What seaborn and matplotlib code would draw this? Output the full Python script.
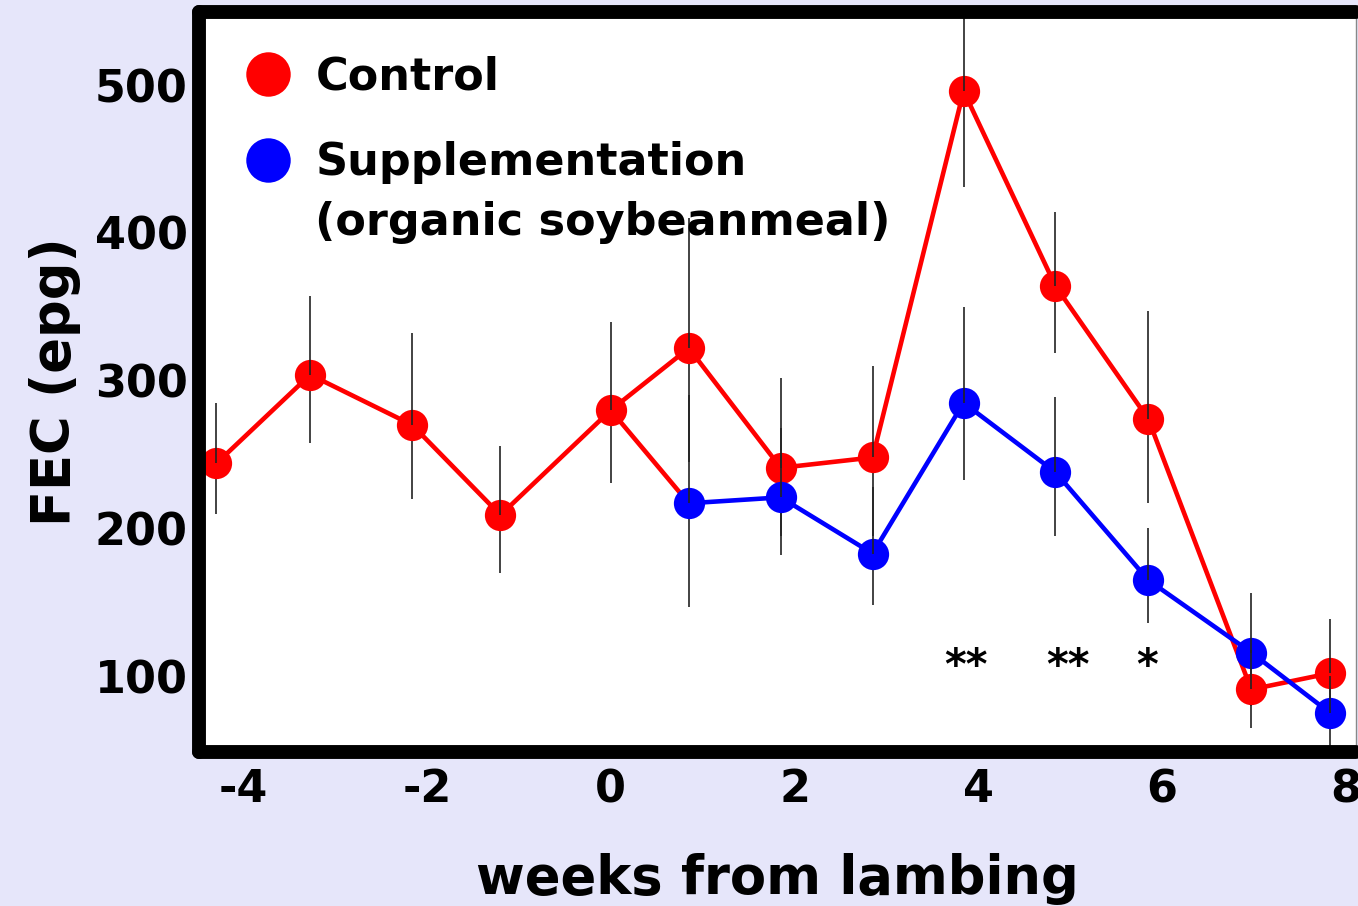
import matplotlib
matplotlib.use("Agg")
import matplotlib.pyplot as plt
from matplotlib.lines import Line2D
import pandas as pd
import seaborn as sns

# ---- data ----
weeks_control = [-4.29, -3.27, -2.16, -1.20, 0.0, 0.85, 1.85, 2.85, 3.84, 4.84, 5.85, 6.97, 7.83]
fec_control = [244, 304, 270, 209, 280, 322, 241, 248, 496, 364, 274, 91, 102]
control_top = [285, 357, 332, 256, 340, 410, 302, 310, 560, 414, 347, 118, 139]
control_bottom = [210, 258, 220, 170, 231, 245, 195, 195, 431, 319, 217, 65, 68]

weeks_supp = [0.85, 1.85, 2.85, 3.84, 4.84, 5.85, 6.97, 7.83]
fec_supp = [217, 221, 183, 285, 238, 165, 116, 75]
supp_top = [290, 268, 228, 350, 289, 200, 156, 100]
supp_bottom = [147, 182, 148, 233, 195, 136, 80, 50]

signif_weeks = [3.87, 4.98, 5.84]
signif_labels = ["**", "**", "*"]
signif_y = 98

x_ticks = [-4, -2, 0, 2, 4, 6, 8]
x_tick_labels = ["-4", "-2", "0", "2", "4", "6", "8"]
x_minor = [-3, -1, 1, 3, 5, 7]
y_ticks = [100, 200, 300, 400, 500]
y_minor = [150, 250, 350, 450]

series_names = ["Control", "Supplementation"]
extra_legend_line = "(organic soybeanmeal)"

RED = "#FF0000"
BLUE = "#0000FF"
BG = "#E6E6FA"
ERR = "#222222"

sns.set_style("white")
plt.rcParams["font.family"] = ["DejaVu Sans"]
plt.rcParams["font.weight"] = "bold"
plt.rcParams["axes.labelweight"] = "bold"
plt.rcParams["axes.unicode_minus"] = False
plt.rcParams["text.color"] = "black"
plt.rcParams["axes.labelcolor"] = "black"

W, H = 1358, 906
fig = plt.figure(figsize=(W / 100, H / 100), dpi=100, facecolor=BG)
ax = fig.add_axes([199 / W, (H - 751.5) / H, (1356 - 199) / W, (751.5 - 12) / H])
ax.set_facecolor("white")

df_c = pd.DataFrame({"week": weeks_control, "fec": fec_control})
df_s = pd.DataFrame({"week": weeks_supp, "fec": fec_supp})

# lower error halves (beneath markers)
ax.vlines(weeks_control, control_bottom, fec_control, colors=ERR, lw=1.2, zorder=1.5)
ax.vlines(weeks_supp, supp_bottom, fec_supp, colors=ERR, lw=1.2, zorder=1.5)

# connecting segment from week-0 control point to first supplementation point
sns.lineplot(x=[weeks_control[4], weeks_supp[0]], y=[fec_control[4], fec_supp[0]],
             color=RED, linewidth=3.3, ax=ax, zorder=1.8, estimator=None)

sns.lineplot(data=df_c, x="week", y="fec", color=RED, marker="o", markersize=22.5,
             markeredgewidth=0, linewidth=3.3, ax=ax, zorder=2, estimator=None)
sns.lineplot(data=df_s, x="week", y="fec", color=BLUE, marker="o", markersize=22.5,
             markeredgewidth=0, linewidth=3.3, ax=ax, zorder=2.1, estimator=None)

# upper error halves (over markers)
ax.vlines(weeks_control, fec_control, control_top, colors=ERR, lw=1.2, zorder=2.3)
ax.vlines(weeks_supp, fec_supp, supp_top, colors=ERR, lw=1.2, zorder=2.3)

for xw, s in zip(signif_weeks, signif_labels):
    ax.text(xw, signif_y, s, ha="center", va="baseline", fontsize=30,
            fontweight="bold", color="black", zorder=3)

ax.set_xlim(-4.48, 8.11)
ax.set_ylim(49, 549.5)
ax.set_xticks(x_ticks)
ax.set_xticklabels(x_tick_labels)
ax.set_xticks(x_minor, minor=True)
ax.set_yticks(y_ticks)
ax.set_yticks(y_minor, minor=True)

ax.tick_params(axis="x", which="major", direction="in", length=11.5, width=0.9,
               color="#555555", labelcolor="black", labelsize=32, pad=12, top=False)
ax.tick_params(axis="x", which="minor", direction="in", length=7.5, width=0.9,
               color="#555555", top=False)
ax.tick_params(axis="y", which="major", direction="in", length=12, width=0.9,
               color="#555555", labelcolor="black", labelsize=32, pad=8, right=False)
ax.tick_params(axis="y", which="minor", direction="in", length=8.6, width=0.9,
               color="#555555", right=False)
for lab in ax.get_xticklabels() + ax.get_yticklabels():
    lab.set_fontweight("bold")

for side in ["left", "top", "bottom"]:
    ax.spines[side].set_linewidth(10)
    ax.spines[side].set_color("black")
    ax.spines[side].set_capstyle("round")
    ax.spines[side].set_zorder(3)
ax.spines["right"].set_linewidth(1)
ax.spines["right"].set_color("#888888")

ax.set_xlabel("weeks from lambing", fontsize=38, labelpad=30, fontweight="bold")
ax.set_ylabel("FEC (epg)", fontsize=38, labelpad=10, fontweight="bold")

handles = [Line2D([], [], ls="none", marker="o", ms=32, color=RED, mew=0),
           Line2D([], [], ls="none", marker="o", ms=32, color=BLUE, mew=0)]
leg = ax.legend(handles, series_names, loc="upper left", bbox_to_anchor=(0.0406, 0.9415),
                frameon=False, handlelength=1.0, handletextpad=0.56,
                labelspacing=0.97, borderpad=0, borderaxespad=0,
                prop={"size": 32, "weight": "bold"})
ax.text(0.1003, 0.716, extra_legend_line, transform=ax.transAxes, fontsize=32,
        fontweight="bold", va="center", ha="left")

fig.savefig("out.png", dpi=100, facecolor=BG)
